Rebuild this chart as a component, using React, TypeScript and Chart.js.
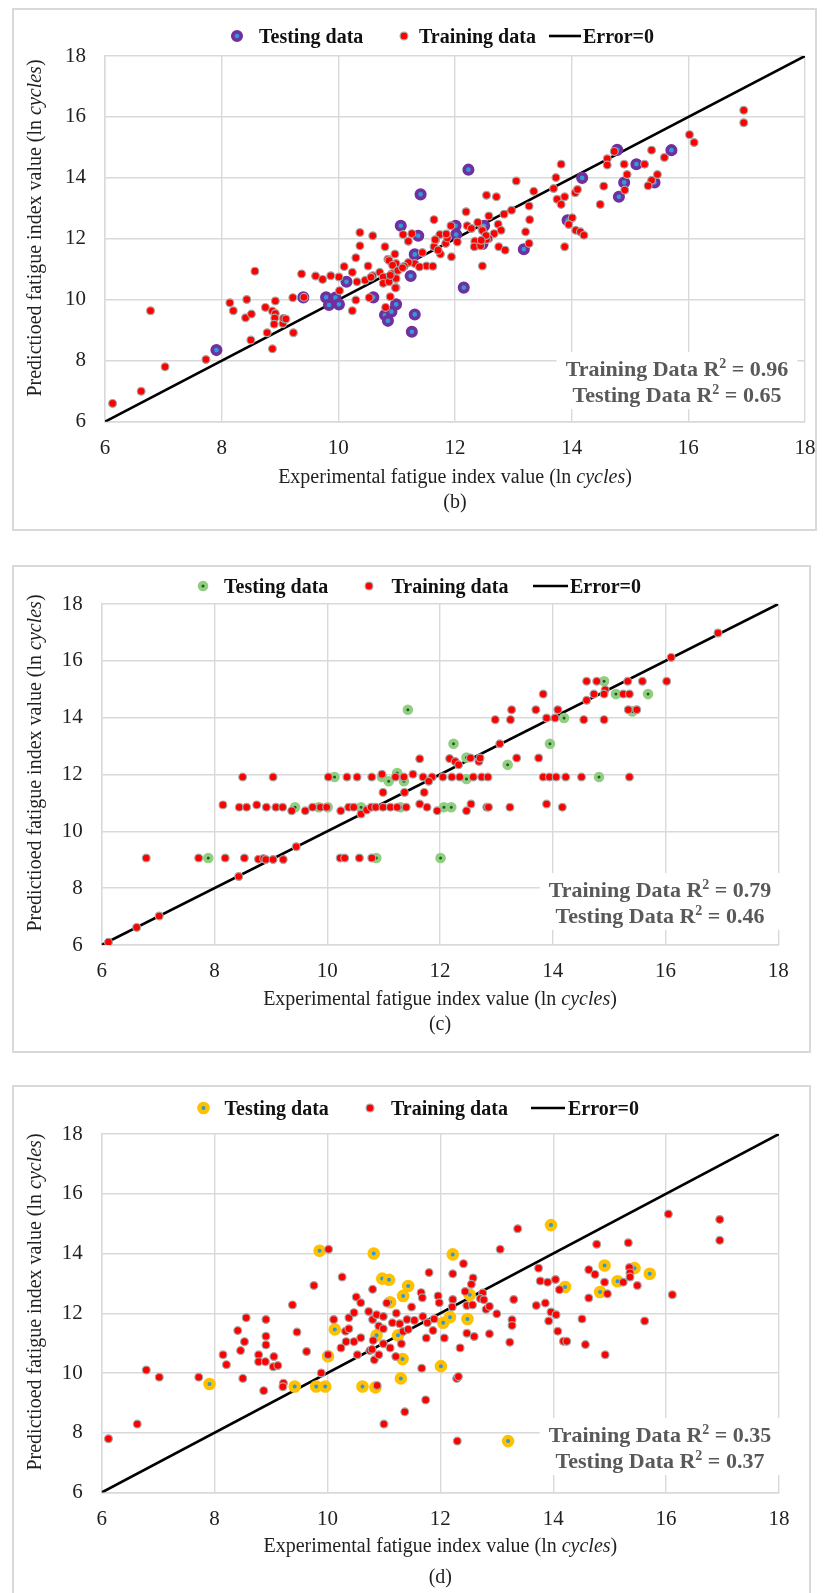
import React, { useEffect, useRef } from "react";
import { Chart, registerables } from "chart.js";

Chart.register(...registerables);

const SERIF = "'Liberation Serif', 'Times New Roman', Times, serif";

// ---------- shared axis / labels ----------
const AXIS_MIN = 6;
const AXIS_MAX = 18;
const AXIS_STEP = 2;
const ERROR_LINE_X = [6, 18];
const ERROR_LINE_Y = [6, 18];
const LEGEND_LABELS = ["Testing data", "Training data", "Error=0"];
const X_TITLE = ["Experimental fatigue index value (ln ", "cycles", ")"];
const Y_TITLE = ["Predictioed fatigue index value (ln ", "cycles", ")"];

// ---------- panel (b) ----------
const B_TRAIN_X = [6.13, 6.62, 6.78, 7.03, 7.73, 8.14, 8.2, 8.43, 8.41, 8.51, 8.5, 8.57, 8.75, 8.78, 8.87, 8.87, 8.92, 8.92, 8.91, 8.9, 9.05, 9.06, 9.1, 9.22, 9.23, 9.37, 9.41, 9.61, 9.73, 9.87, 10.01, 10.02, 10.1, 10.24, 10.3, 10.32, 10.37, 10.37, 10.3, 10.24, 10.46, 10.51, 10.59, 10.53, 10.59, 10.71, 10.8, 10.77, 10.85, 10.77, 10.81, 10.87, 10.91, 10.89, 10.97, 10.99, 10.99, 10.99, 10.87, 10.93, 11.02, 10.56, 10.89, 10.98, 16.95, 16.95, 16.02, 16.1, 14.73, 14.61, 14.61, 15.37, 15.59, 15.25, 14.9, 14.95, 15.47, 15.37, 15.31, 14.91, 14.55, 14.49, 13.82, 13.73, 13.69, 13.88, 13.75, 13.82, 14.06, 14.1, 14.01, 13.95, 14.07, 14.15, 14.21, 13.88, 13.05, 13.35, 13.27, 13.28, 13.21, 13.27, 12.97, 12.84, 12.74, 12.79, 12.67, 12.58, 12.54, 12.71, 12.46, 12.39, 12.58, 12.54, 12.34, 12.33, 12.44, 12.75, 12.86, 12.47, 12.19, 12.21, 12.28, 11.93, 12.04, 11.94, 11.84, 11.87, 11.74, 11.64, 11.67, 11.64, 11.75, 11.71, 11.44, 11.51, 11.62, 11.31, 11.39, 11.2, 11.11, 11.26, 11.2, 11.13, 12.47, 12.53, 12.45, 11.85, 11.66, 11.1];
const B_TRAIN_Y = [6.6, 7.0, 9.64, 7.8, 8.04, 9.9, 9.64, 10.01, 9.41, 9.53, 8.68, 10.94, 9.75, 8.92, 8.39, 9.63, 9.96, 9.55, 9.4, 9.2, 9.22, 9.39, 9.37, 10.07, 8.92, 10.85, 10.08, 10.78, 10.67, 10.79, 10.75, 10.3, 11.09, 10.9, 11.38, 10.59, 12.21, 11.77, 9.99, 9.64, 10.64, 11.11, 12.1, 10.07, 10.79, 10.9, 11.74, 10.75, 11.33, 10.54, 9.75, 10.59, 10.85, 10.1, 11.5, 11.19, 10.7, 10.4, 11.29, 11.13, 10.96, 10.74, 10.8, 10.39, 16.22, 15.81, 15.42, 15.16, 14.87, 14.63, 14.42, 14.91, 14.67, 14.45, 14.45, 14.11, 14.11, 13.92, 13.74, 13.6, 13.73, 13.13, 14.45, 14.01, 13.65, 13.38, 13.3, 13.13, 13.51, 13.62, 12.69, 12.47, 12.28, 12.23, 12.12, 11.74, 13.9, 13.56, 13.08, 12.63, 12.23, 11.85, 12.94, 12.81, 12.48, 12.28, 12.17, 12.75, 13.43, 13.38, 12.32, 12.54, 12.01, 11.98, 11.92, 11.74, 11.77, 11.74, 11.63, 11.11, 12.89, 12.43, 12.34, 12.43, 11.9, 11.41, 11.85, 12.03, 12.14, 12.63, 11.96, 11.74, 11.5, 11.63, 11.55, 11.11, 11.1, 11.19, 11.08, 11.22, 12.14, 12.17, 11.92, 11.1, 12.27, 12.11, 11.95, 12.16, 11.97, 11.05];
const B_TEST_X = [7.91, 9.4, 9.79, 9.84, 9.95, 10.01, 10.14, 10.6, 10.8, 10.85, 10.91, 10.99, 15.71, 15.11, 14.9, 14.81, 15.42, 14.18, 12.23, 11.41, 11.07, 11.37, 12.01, 12.02, 12.5, 12.47, 13.18, 13.93, 11.31, 11.24, 12.15, 11.31, 11.26, 14.78];
const B_TEST_Y = [8.35, 10.08, 10.08, 9.83, 10.07, 9.85, 10.59, 10.08, 9.5, 9.31, 9.61, 9.85, 14.91, 14.45, 13.85, 13.38, 13.85, 14.0, 14.27, 13.46, 12.43, 12.1, 12.43, 12.14, 12.43, 11.83, 11.66, 12.61, 11.49, 10.78, 10.4, 9.52, 8.95, 14.92];
const B_R2 = ["0.96", "0.65"];

// ---------- panel (c) ----------
const C_TRAIN_X = [6.12, 6.62, 7.02, 6.79, 7.72, 8.19, 8.53, 8.78, 8.87, 8.91, 9.04, 9.22, 10.23, 10.31, 10.57, 10.79, 8.43, 9.45, 10.6, 8.15, 8.44, 8.57, 8.75, 8.92, 9.09, 9.21, 9.37, 9.61, 9.74, 9.88, 9.99, 10.24, 10.38, 10.47, 10.7, 10.78, 10.86, 10.99, 11.12, 11.24, 11.4, 11.64, 11.77, 11.95, 10.99, 11.37, 11.72, 8.5, 9.04, 10.02, 10.35, 10.53, 10.79, 10.97, 11.21, 11.36, 11.52, 11.7, 11.86, 11.8, 12.05, 11.64, 12.17, 16.93, 16.1, 14.6, 14.78, 15.33, 15.59, 16.02, 14.93, 14.73, 14.91, 15.25, 15.36, 14.6, 13.83, 13.27, 13.7, 14.09, 15.34, 15.49, 12.98, 13.25, 13.89, 14.04, 14.55, 14.91, 13.06, 12.27, 12.33, 12.54, 12.69, 12.71, 13.36, 13.75, 12.21, 12.35, 12.59, 12.74, 12.85, 13.83, 13.94, 14.06, 14.23, 14.51, 15.36, 12.55, 12.47, 12.83, 12.86, 13.24, 13.89, 14.17];
const C_TRAIN_Y = [6.1, 6.62, 7.02, 9.06, 9.06, 9.06, 9.06, 9.02, 9.04, 9.01, 9.01, 9.01, 9.06, 9.06, 9.06, 9.06, 8.41, 9.46, 10.61, 10.93, 10.85, 10.85, 10.93, 10.85, 10.85, 10.85, 10.72, 10.72, 10.85, 10.85, 10.85, 10.72, 10.85, 10.85, 10.75, 10.85, 10.85, 10.85, 10.85, 10.85, 10.85, 10.96, 10.85, 10.72, 11.37, 11.37, 11.37, 11.91, 11.91, 11.91, 11.91, 11.91, 11.91, 12.01, 11.91, 11.91, 12.01, 11.91, 11.91, 11.76, 11.91, 12.55, 12.56, 16.98, 16.12, 15.28, 15.28, 15.28, 15.28, 15.28, 14.98, 14.83, 14.83, 14.83, 14.83, 14.61, 14.83, 14.28, 14.28, 14.28, 14.28, 14.28, 13.93, 13.93, 13.99, 13.99, 13.93, 13.93, 13.08, 12.46, 12.34, 12.58, 12.46, 12.58, 12.58, 12.58, 11.91, 11.91, 11.91, 11.91, 11.91, 11.91, 11.91, 11.91, 11.91, 11.91, 11.91, 10.96, 10.72, 10.85, 10.85, 10.85, 10.96, 10.85];
const C_TEST_X = [7.89, 10.87, 12.01, 9.43, 9.85, 10.01, 10.6, 11.3, 12.07, 10.13, 10.97, 11.09, 11.24, 11.36, 11.43, 14.91, 15.12, 15.69, 15.41, 14.2, 12.24, 12.47, 13.95, 13.2, 14.82, 12.47, 12.2];
const C_TEST_Y = [9.06, 9.06, 9.06, 10.85, 10.85, 10.85, 10.85, 10.85, 10.85, 11.91, 11.91, 11.76, 12.05, 11.76, 14.28, 15.28, 14.83, 14.83, 14.22, 13.99, 13.08, 12.6, 13.08, 12.34, 11.91, 11.84, 10.85];
const C_R2 = ["0.79", "0.46"];

// ---------- panel (d) ----------
const D_TRAIN_X = [6.12, 6.63, 6.79, 7.02, 7.72, 8.15, 8.21, 8.41, 8.53, 8.56, 8.46, 8.5, 8.78, 8.78, 8.87, 8.91, 8.91, 8.91, 8.9, 9.05, 9.04, 9.12, 9.22, 9.21, 9.38, 9.46, 9.63, 9.76, 9.89, 10.02, 10.01, 10.11, 10.24, 10.26, 10.32, 10.38, 10.38, 10.33, 10.47, 10.47, 10.51, 10.59, 10.59, 10.53, 10.73, 10.8, 10.8, 10.81, 10.75, 10.79, 10.83, 10.87, 10.91, 10.91, 10.88, 10.99, 10.99, 10.99, 11.0, 11.05, 11.11, 11.15, 11.22, 11.21, 11.28, 11.31, 11.34, 11.37, 11.41, 11.43, 11.49, 11.54, 11.66, 11.68, 11.69, 11.67, 11.74, 11.77, 11.75, 11.8, 11.87, 11.89, 11.96, 11.98, 12.3, 16.04, 16.95, 16.95, 16.11, 13.37, 13.06, 14.77, 15.33, 12.41, 12.22, 12.58, 12.55, 12.44, 12.75, 12.71, 12.77, 12.81, 12.87, 13.0, 12.47, 12.57, 12.22, 12.21, 13.3, 13.27, 13.27, 12.87, 12.6, 12.47, 12.07, 12.35, 13.23, 12.29, 12.32, 13.74, 13.77, 13.9, 14.04, 14.11, 13.7, 13.86, 13.96, 14.05, 13.92, 14.08, 14.18, 14.24, 14.51, 14.57, 14.92, 14.63, 14.74, 14.91, 14.96, 14.63, 15.24, 15.35, 15.36, 15.36, 15.49, 15.62];
const D_TRAIN_Y = [7.8, 8.29, 10.1, 9.86, 9.86, 10.61, 10.28, 11.42, 11.05, 11.85, 10.75, 9.82, 10.61, 10.38, 9.41, 11.79, 11.23, 10.94, 10.38, 10.55, 10.21, 10.25, 9.66, 9.54, 12.28, 11.37, 10.72, 12.93, 10.0, 14.14, 10.61, 11.79, 10.84, 13.21, 11.4, 11.48, 11.85, 11.05, 12.02, 11.05, 12.54, 12.35, 11.18, 10.61, 12.06, 12.8, 11.79, 11.09, 10.75, 10.79, 10.44, 11.95, 11.57, 10.61, 9.58, 11.89, 11.48, 10.98, 8.29, 12.34, 10.84, 11.68, 12.0, 10.55, 11.65, 10.98, 11.39, 8.7, 11.79, 11.46, 12.21, 11.76, 12.69, 12.52, 11.89, 10.16, 9.1, 11.68, 11.17, 13.36, 11.42, 11.81, 12.58, 12.35, 7.72, 15.32, 15.14, 14.44, 12.62, 14.83, 14.14, 14.31, 14.36, 13.66, 13.32, 13.18, 12.97, 12.73, 12.68, 12.49, 12.45, 12.13, 12.23, 11.98, 12.26, 12.28, 12.46, 12.21, 12.46, 11.78, 11.59, 11.31, 11.22, 11.33, 11.17, 10.84, 11.03, 9.82, 9.88, 13.51, 13.08, 13.04, 13.13, 12.79, 12.26, 12.34, 12.04, 11.95, 11.74, 11.4, 11.06, 11.06, 11.81, 10.95, 10.61, 13.46, 13.3, 13.04, 12.65, 12.51, 13.04, 13.53, 13.35, 13.21, 12.93, 11.74];
const D_TEST_X = [7.91, 9.42, 9.8, 9.96, 9.86, 10.01, 10.13, 10.62, 10.85, 10.82, 10.97, 11.09, 11.11, 11.34, 11.43, 10.87, 11.25, 11.33, 11.3, 12.01, 12.05, 12.17, 12.22, 13.96, 14.91, 15.44, 15.71, 15.14, 14.83, 14.21, 12.52, 12.48, 13.2];
const D_TEST_Y = [9.63, 9.55, 9.55, 9.55, 14.09, 10.56, 11.46, 9.55, 9.52, 14.0, 13.16, 13.12, 12.37, 12.58, 12.91, 11.26, 11.26, 10.47, 9.82, 10.23, 11.68, 11.87, 13.97, 14.95, 13.6, 13.51, 13.32, 13.07, 12.71, 12.88, 12.62, 11.81, 7.72];
const D_R2 = ["0.35", "0.37"];

// ---------- layout (page pixel coordinates) ----------
const PANELS = [
  {
    key: "b", caption: "(b)",
    trainX: B_TRAIN_X, trainY: B_TRAIN_Y, testX: B_TEST_X, testY: B_TEST_Y, r2: B_R2,
    frame: { l: 12, t: 8, r: 817, b: 531 },
    plot: { l: 105, t: 56, r: 805, b: 421.7 },
    legendY: 36,
    legend: { testM: 237, testT: 259, trainM: 404, trainT: 419, lineA: 549, lineB: 581, errT: 583 },
    titleY: 478, capY: 503, yTitleX: 36, yTitleY: 228,
    r2Pos: { cx: 677, y1: 369, y2: 395 },
    test: { fill: "#2d9dd6", ring: "#7030a0", r: 4.2, w: 3.7 },
  },
  {
    key: "c", caption: "(c)",
    trainX: C_TRAIN_X, trainY: C_TRAIN_Y, testX: C_TEST_X, testY: C_TEST_Y, r2: C_R2,
    frame: { l: 12, t: 565, r: 811, b: 1053 },
    plot: { l: 101.7, t: 604, r: 778.3, b: 945 },
    legendY: 586,
    legend: { testM: 203, testT: 224, trainM: 369, trainT: 391.5, lineA: 533, lineB: 568, errT: 570 },
    titleY: 1000, capY: 1025, yTitleX: 36, yTitleY: 763,
    r2Pos: { cx: 660, y1: 890, y2: 916 },
    test: { fill: "#1e5b1e", ring: "#90cf80", r: 3.4, w: 3.8 },
  },
  {
    key: "d", caption: "(d)",
    trainX: D_TRAIN_X, trainY: D_TRAIN_Y, testX: D_TEST_X, testY: D_TEST_Y, r2: D_R2,
    frame: { l: 12, t: 1085, r: 811, b: 1596 },
    plot: { l: 101.7, t: 1134, r: 779, b: 1492.5 },
    legendY: 1108,
    legend: { testM: 203.5, testT: 224.5, trainM: 370, trainT: 391, lineA: 531, lineB: 565, errT: 568 },
    titleY: 1547, capY: 1578, yTitleX: 36, yTitleY: 1302,
    r2Pos: { cx: 660, y1: 1435, y2: 1461 },
    test: { fill: "#2b9bd8", ring: "#ffc000", r: 4.15, w: 4.3 },
  },
];

const TRAIN_FILL = "#ff0000";
const TRAIN_RING = "#a6a6a6";
const TRAIN_R = 3.9;
const TRAIN_W = 1.2;
const GRID = "#d9d9d9";
const TEXT = "#1f1f1f";

function toPoints(xs: number[], ys: number[]) {
  return xs.map((x, i) => ({ x, y: ys[i] }));
}

type Run = { t: string; font: string; dy?: number };

function drawRuns(ctx: CanvasRenderingContext2D, runs: Run[], cx: number, y: number) {
  const widths = runs.map((r) => {
    ctx.font = r.font;
    return ctx.measureText(r.t).width;
  });
  const total = widths.reduce((a, b) => a + b, 0);
  let x = cx - total / 2;
  ctx.textAlign = "left";
  runs.forEach((r, i) => {
    ctx.font = r.font;
    ctx.fillText(r.t, x, y + (r.dy || 0));
    x += widths[i];
  });
  return total;
}

function drawMarker(ctx: CanvasRenderingContext2D, x: number, y: number, r: number, w: number, fill: string, ring: string) {
  ctx.beginPath();
  ctx.arc(x, y, r, 0, Math.PI * 2);
  ctx.fillStyle = fill;
  ctx.fill();
  ctx.lineWidth = w;
  ctx.strokeStyle = ring;
  ctx.stroke();
}

function PanelChart({ cfg }: { cfg: any }) {
  const ref = useRef<HTMLCanvasElement>(null);
  const W = cfg.frame.r - cfg.frame.l;
  const H = cfg.frame.b - cfg.frame.t;

  useEffect(() => {
    const canvas = ref.current;
    if (!canvas) return;
    const ox = cfg.frame.l;
    const oy = cfg.frame.t;
    const YW = 60;
    const XH = 40;

    const decor = {
      id: "decor" + cfg.key,
      beforeDatasetsDraw(chart: any) {
        const ctx: CanvasRenderingContext2D = chart.ctx;
        ctx.save();
        const bold22 = `bold 22px ${SERIF}`;
        const bold14 = `bold 14px ${SERIF}`;
        const lines = [
          [{ t: "Training Data R", font: bold22 }, { t: "2", font: bold14, dy: -8 }, { t: " = " + cfg.r2[0], font: bold22 }],
          [{ t: "Testing Data R", font: bold22 }, { t: "2", font: bold14, dy: -8 }, { t: " = " + cfg.r2[1], font: bold22 }],
        ];
        const widths = lines.map((runs) =>
          runs.reduce((s, r) => {
            ctx.font = r.font;
            return s + ctx.measureText(r.t).width;
          }, 0)
        );
        const maxW = Math.max(...widths);
        const cx = cfg.r2Pos.cx - ox;
        ctx.fillStyle = "#ffffff";
        ctx.fillRect(cx - maxW / 2 - 9, cfg.r2Pos.y1 - oy - 17, maxW + 18, cfg.r2Pos.y2 - cfg.r2Pos.y1 + 31);
        ctx.fillStyle = "#595959";
        ctx.textBaseline = "alphabetic";
        drawRuns(ctx, lines[0], cx, cfg.r2Pos.y1 - oy + 7.3);
        drawRuns(ctx, lines[1], cx, cfg.r2Pos.y2 - oy + 7.3);
        ctx.restore();
      },
      afterDraw(chart: any) {
        const ctx: CanvasRenderingContext2D = chart.ctx;
        ctx.save();
        const L = cfg.legend;
        const ly = cfg.legendY - oy;
        const bold20 = `bold 20px ${SERIF}`;
        // legend
        drawMarker(ctx, L.testM - ox, ly, cfg.test.r, cfg.test.w, cfg.test.fill, cfg.test.ring);
        drawMarker(ctx, L.trainM - ox, ly, TRAIN_R, TRAIN_W, TRAIN_FILL, TRAIN_RING);
        ctx.beginPath();
        ctx.moveTo(L.lineA - ox, ly);
        ctx.lineTo(L.lineB - ox, ly);
        ctx.lineWidth = 2.6;
        ctx.strokeStyle = "#000";
        ctx.stroke();
        ctx.font = bold20;
        ctx.fillStyle = "#111";
        ctx.textAlign = "left";
        ctx.textBaseline = "alphabetic";
        ctx.fillText(LEGEND_LABELS[0], L.testT - ox, ly + 6.6);
        ctx.fillText(LEGEND_LABELS[1], L.trainT - ox, ly + 6.6);
        ctx.fillText(LEGEND_LABELS[2], L.errT - ox, ly + 6.6);

        // x title
        const reg = `20px ${SERIF}`;
        const ital = `italic 20px ${SERIF}`;
        ctx.fillStyle = TEXT;
        ctx.textBaseline = "middle";
        const pcx = (cfg.plot.l + cfg.plot.r) / 2 - ox;
        drawRuns(ctx, [{ t: X_TITLE[0], font: reg }, { t: X_TITLE[1], font: ital }, { t: X_TITLE[2], font: reg }], pcx, cfg.titleY - oy);
        // caption
        drawRuns(ctx, [{ t: cfg.caption, font: reg }], pcx, cfg.capY - oy);
        // y title
        ctx.save();
        ctx.translate(cfg.yTitleX - ox, cfg.yTitleY - oy);
        ctx.rotate(-Math.PI / 2);
        drawRuns(ctx, [{ t: Y_TITLE[0], font: reg }, { t: Y_TITLE[1], font: ital }, { t: Y_TITLE[2], font: reg }], 0, 0);
        ctx.restore();
        ctx.restore();
      },
    };

    const tickFont = { family: SERIF, size: 21 };
    const chart = new Chart(canvas, {
      type: "scatter",
      data: {
        datasets: [
          {
            label: LEGEND_LABELS[0],
            data: toPoints(cfg.testX, cfg.testY),
            pointRadius: cfg.test.r,
            pointBorderWidth: cfg.test.w,
            pointBackgroundColor: cfg.test.fill,
            pointBorderColor: cfg.test.ring,
            showLine: false,
            order: 1,
          },
          {
            label: LEGEND_LABELS[1],
            data: toPoints(cfg.trainX, cfg.trainY),
            pointRadius: TRAIN_R,
            pointBorderWidth: TRAIN_W,
            pointBackgroundColor: TRAIN_FILL,
            pointBorderColor: TRAIN_RING,
            showLine: false,
            order: 0,
          },
          {
            label: LEGEND_LABELS[2],
            data: toPoints(ERROR_LINE_X, ERROR_LINE_Y),
            showLine: true,
            borderColor: "#000000",
            borderWidth: 2.6,
            pointRadius: 0,
            order: 2,
          },
        ],
      },
      options: {
        animation: false,
        responsive: false,
        events: [],
        layout: {
          padding: {
            left: cfg.plot.l - ox - YW,
            top: cfg.plot.t - oy,
            right: cfg.frame.r - cfg.plot.r,
            bottom: cfg.frame.b - cfg.plot.b - XH,
          },
        },
        plugins: { legend: { display: false }, tooltip: { enabled: false }, title: { display: false } },
        scales: {
          x: {
            type: "linear",
            min: AXIS_MIN,
            max: AXIS_MAX,
            ticks: { stepSize: AXIS_STEP, padding: 14, font: tickFont, color: TEXT, maxRotation: 0 },
            grid: { color: GRID, lineWidth: 1.4, drawTicks: false },
            border: { color: GRID, width: 1.4 },
            afterFit: (s: any) => {
              s.height = XH;
              s.paddingLeft = 0;
              s.paddingRight = 0;
            },
          },
          y: {
            type: "linear",
            min: AXIS_MIN,
            max: AXIS_MAX,
            ticks: { stepSize: AXIS_STEP, padding: 19, font: tickFont, color: TEXT },
            grid: { color: GRID, lineWidth: 1.4, drawTicks: false },
            border: { color: GRID, width: 1.4 },
            afterFit: (s: any) => {
              s.width = YW;
              s.paddingTop = 0;
              s.paddingBottom = 0;
            },
          },
        },
      },
      plugins: [decor],
    } as any);
    return () => chart.destroy();
  }, [cfg]);

  return (
    <>
      <div
        style={{
          position: "absolute",
          left: cfg.frame.l,
          top: cfg.frame.t,
          width: W,
          height: H,
          border: "2px solid #d9d9d9",
          boxSizing: "border-box",
          background: "#ffffff",
        }}
      />
      <canvas
        ref={ref}
        width={W}
        height={H}
        style={{ position: "absolute", left: cfg.frame.l, top: cfg.frame.t, width: W, height: H, display: "block" }}
      />
    </>
  );
}

export default function App() {
  return (
    <div
      style={{
        position: "absolute",
        left: 0,
        top: 0,
        width: 829,
        height: 1593,
        background: "#ffffff",
        overflow: "hidden",
      }}
    >
      {PANELS.map((p) => (
        <PanelChart key={p.key} cfg={p} />
      ))}
    </div>
  );
}
